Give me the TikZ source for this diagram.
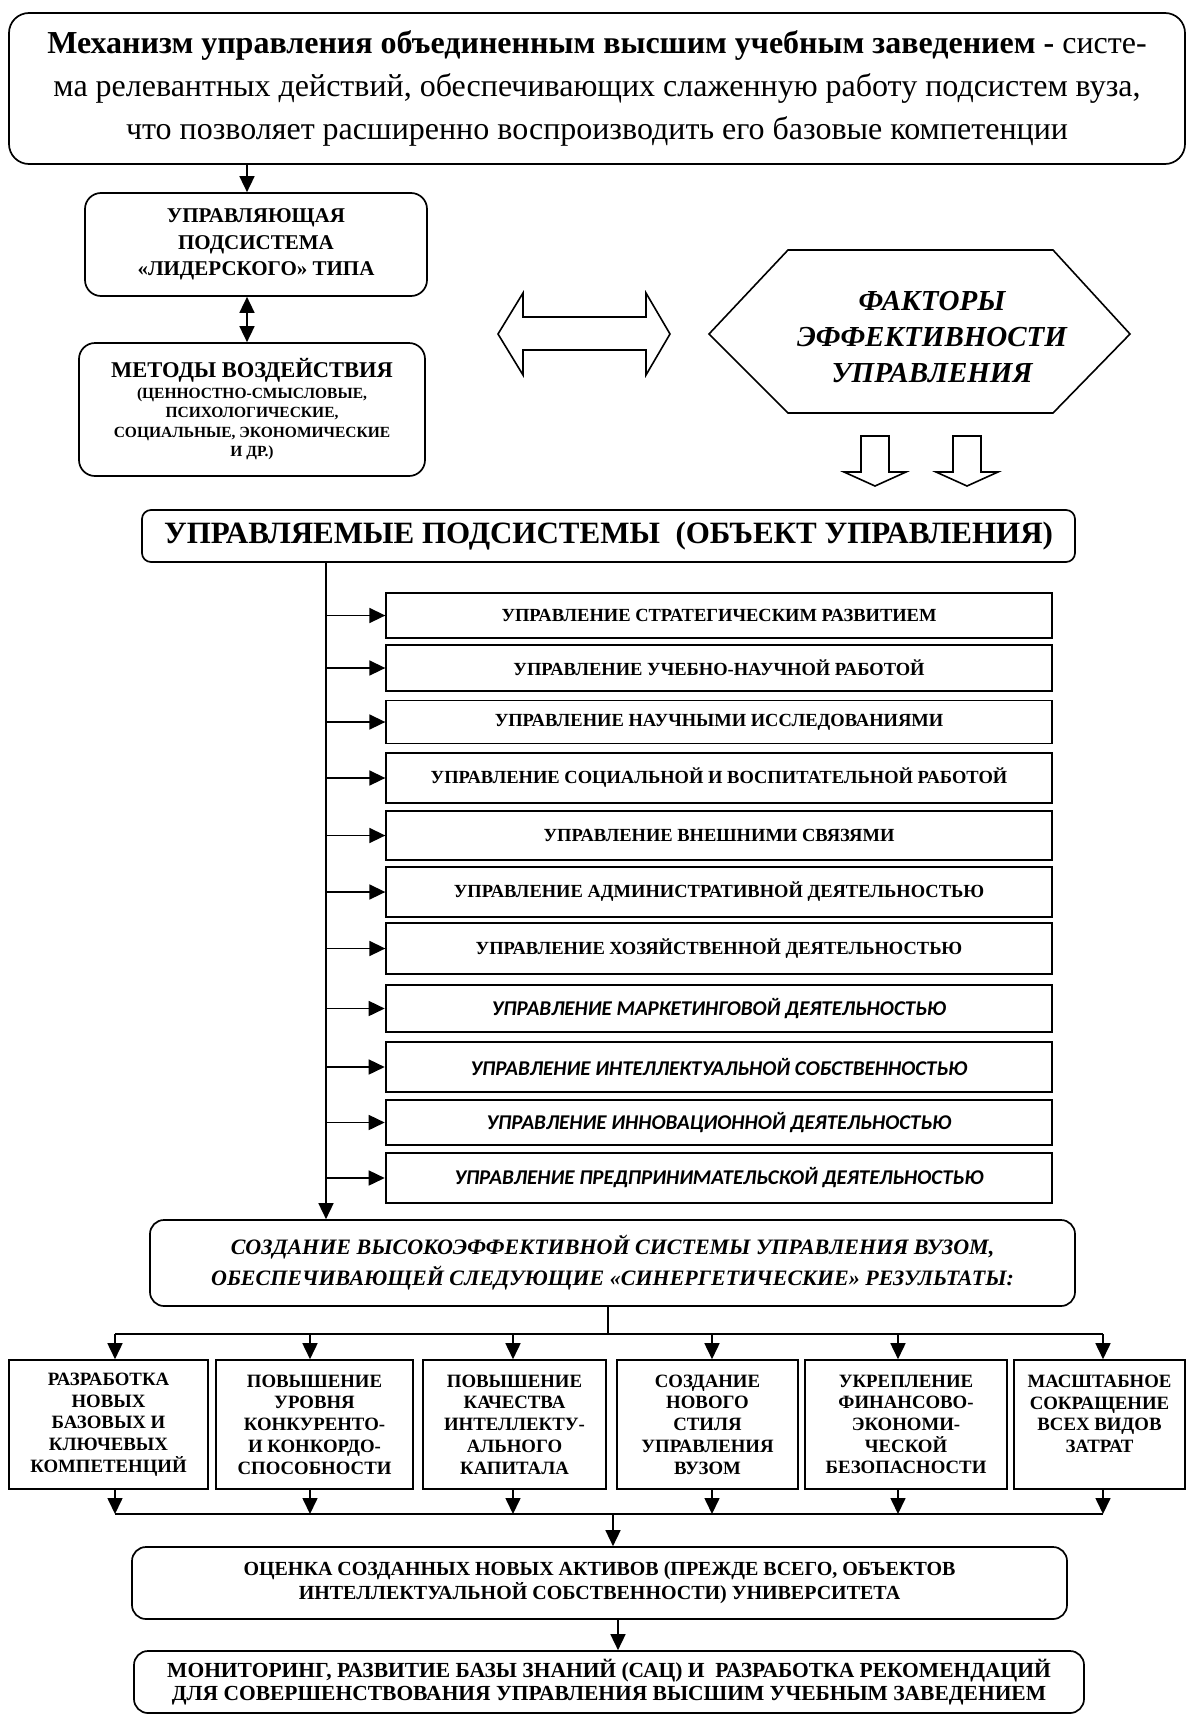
\documentclass[tikz,border=0pt]{standalone}
\usepackage{fontspec}
\setmainfont{Liberation Serif}
\newfontfamily\calibri{Carlito}
\usetikzlibrary{arrows.meta}
\begin{document}
\begin{tikzpicture}[x=1pt,y=-1pt,
 rbox/.style={draw, line width=1.7pt, rounded corners=16pt, inner sep=0pt, align=center},
 lbox/.style={draw, line width=1.3pt, inner sep=0pt, align=center, minimum width=666pt, font=\fontsize{18.5}{22}\selectfont\bfseries},
 ibox/.style={lbox, line width=2.6pt, font=\fontsize{21}{25}\selectfont\calibri\bfseries\itshape},
 rbx/.style={draw, line width=1.6pt, inner sep=0pt, align=center, minimum height=129pt, font=\fontsize{18.8}{21.7}\selectfont\bfseries},
 conn/.style={line width=1.6pt, -{Triangle[length=16pt,width=15pt]}},
 dconn/.style={line width=1.6pt, {Triangle[length=16pt,width=15pt]}-{Triangle[length=16pt,width=15pt]}},
 plain/.style={line width=1.6pt},
 blk/.style={line width=1.6pt, line join=miter},
]
\useasboundingbox (0,0) rectangle (1192,1716);

% top box
\node[rbox, rounded corners=20pt, minimum width=1176pt, minimum height=151pt,
      font=\fontsize{32}{43}\selectfont] (top) at (597,88.5)
 {\textbf{Механизм управления объединенным высшим учебным заведением -} систе-\\
  ма релевантных действий, обеспечивающих слаженную работу подсистем вуза,\\
  что позволяет расширенно воспроизводить его базовые компетенции};

% leader subsystem
\node[rbox, minimum width=342pt, minimum height=103pt, font=\fontsize{21}{26.5}\selectfont\bfseries] (lead) at (256,244.5)
 {УПРАВЛЯЮЩАЯ\\ПОДСИСТЕМА\\«ЛИДЕРСКОГО» ТИПА};

% methods
\node[rbox, minimum width=346pt, minimum height=133pt, font=\fontsize{15.5}{19.5}\selectfont\bfseries] (meth) at (252,409.5)
 {{\fontsize{22.5}{26}\selectfont МЕТОДЫ ВОЗДЕЙСТВИЯ}\\[1pt]
  (ЦЕННОСТНО-СМЫСЛОВЫЕ,\\ПСИХОЛОГИЧЕСКИЕ,\\СОЦИАЛЬНЫЕ, ЭКОНОМИЧЕСКИЕ\\И ДР.)};

% double block arrow
\draw[blk] (498,334) -- (523,293) -- (523,317) -- (646,317) -- (646,293) -- (670,334)
  -- (646,375) -- (646,350) -- (523,350) -- (523,375) -- cycle;

% hexagon
\draw[blk] (709,334) -- (788,250) -- (1053,250) -- (1130,334) -- (1053,413) -- (788,413) -- cycle;
\node[align=center, inner sep=0pt, font=\fontsize{29}{36}\selectfont\bfseries\itshape] (fact) at (932,337)
 {ФАКТОРЫ\\ЭФФЕКТИВНОСТИ\\УПРАВЛЕНИЯ};

% down block arrows
\draw[blk] (861,436) -- (889,436) -- (889,472) -- (906,472) -- (875,486) -- (844,472) -- (861,472) -- cycle;
\draw[blk] (953,436) -- (981,436) -- (981,472) -- (998,472) -- (967,486) -- (936,472) -- (953,472) -- cycle;

% managed subsystems
\node[rbox, rounded corners=9pt, minimum width=933pt, minimum height=52pt, font=\fontsize{31}{34}\selectfont\bfseries] (subs) at (608.5,536)
 {УПРАВЛЯЕМЫЕ ПОДСИСТЕМЫ\ \ (ОБЪЕКТ УПРАВЛЕНИЯ)};

% list
\node[lbox, minimum height=45pt] (L1) at (719,615.5) {УПРАВЛЕНИЕ СТРАТЕГИЧЕСКИМ РАЗВИТИЕМ};
\node[lbox, minimum height=46pt] (L2) at (719,668) {УПРАВЛЕНИЕ УЧЕБНО-НАУЧНОЙ РАБОТОЙ};
\node[lbox, minimum height=43pt] (L3) at (719,722) {УПРАВЛЕНИЕ НАУЧНЫМИ ИССЛЕДОВАНИЯМИ};
\node[lbox, minimum height=50pt] (L4) at (719,778) {УПРАВЛЕНИЕ СОЦИАЛЬНОЙ И ВОСПИТАТЕЛЬНОЙ РАБОТОЙ};
\node[lbox, minimum height=49pt] (L5) at (719,835.5) {УПРАВЛЕНИЕ ВНЕШНИМИ СВЯЗЯМИ};
\node[lbox, minimum height=50pt] (L6) at (719,892) {УПРАВЛЕНИЕ АДМИНИСТРАТИВНОЙ ДЕЯТЕЛЬНОСТЬЮ};
\node[lbox, minimum height=51pt] (L7) at (719,948.5) {УПРАВЛЕНИЕ ХОЗЯЙСТВЕННОЙ ДЕЯТЕЛЬНОСТЬЮ};
\node[ibox, minimum height=47pt] (L8) at (719,1008.5) {УПРАВЛЕНИЕ МАРКЕТИНГОВОЙ ДЕЯТЕЛЬНОСТЬЮ};
\node[ibox, minimum height=50pt] (L9) at (719,1067) {УПРАВЛЕНИЕ ИНТЕЛЛЕКТУАЛЬНОЙ СОБСТВЕННОСТЬЮ};
\node[ibox, minimum height=45pt] (L10) at (719,1122.5) {УПРАВЛЕНИЕ ИННОВАЦИОННОЙ ДЕЯТЕЛЬНОСТЬЮ};
\node[ibox, minimum height=50pt] (L11) at (719,1178) {УПРАВЛЕНИЕ ПРЕДПРИНИМАТЕЛЬСКОЙ ДЕЯТЕЛЬНОСТЬЮ};

% creation box
\node[rbox, rounded corners=14pt, minimum width=925pt, minimum height=86pt, font=\fontsize{22}{31}\selectfont\bfseries\itshape] (create) at (612.5,1263)
 {СОЗДАНИЕ ВЫСОКОЭФФЕКТИВНОЙ СИСТЕМЫ УПРАВЛЕНИЯ ВУЗОМ,\\ОБЕСПЕЧИВАЮЩЕЙ СЛЕДУЮЩИЕ «СИНЕРГЕТИЧЕСКИЕ» РЕЗУЛЬТАТЫ:};

% results
\node[rbx, minimum width=199pt] (R1) at (108.5,1424.5) {РАЗРАБОТКА\\НОВЫХ\\БАЗОВЫХ И\\КЛЮЧЕВЫХ\\КОМПЕТЕНЦИЙ};
\node[rbx, minimum width=197pt] (R2) at (314.5,1424.5) {ПОВЫШЕНИЕ\\УРОВНЯ\\КОНКУРЕНТО-\\И КОНКОРДО-\\СПОСОБНОСТИ};
\node[rbx, minimum width=183pt] (R3) at (514.5,1424.5) {ПОВЫШЕНИЕ\\КАЧЕСТВА\\ИНТЕЛЛЕКТУ-\\АЛЬНОГО\\КАПИТАЛА};
\node[rbx, minimum width=181pt] (R4) at (707.5,1424.5) {СОЗДАНИЕ\\НОВОГО\\СТИЛЯ\\УПРАВЛЕНИЯ\\ВУЗОМ};
\node[rbx, minimum width=202pt] (R5) at (906,1424.5) {УКРЕПЛЕНИЕ\\ФИНАНСОВО-\\ЭКОНОМИ-\\ЧЕСКОЙ\\БЕЗОПАСНОСТИ};
\node[rbx, minimum width=171pt] (R6) at (1099.5,1424.5) {МАСШТАБНОЕ\\СОКРАЩЕНИЕ\\ВСЕХ ВИДОВ\\ЗАТРАТ\\\mbox{}};

% evaluation and monitoring
\node[rbox, rounded corners=14pt, minimum width=935pt, minimum height=72pt, font=\fontsize{20}{24}\selectfont\bfseries] (eval) at (599.5,1583)
 {ОЦЕНКА СОЗДАННЫХ НОВЫХ АКТИВОВ (ПРЕЖДЕ ВСЕГО, ОБЪЕКТОВ\\ИНТЕЛЛЕКТУАЛЬНОЙ СОБСТВЕННОСТИ) УНИВЕРСИТЕТА};
\node[rbox, rounded corners=14pt, minimum width=950pt, minimum height=62pt, font=\fontsize{21.5}{23.5}\selectfont\bfseries] (mon) at (609,1682)
 {МОНИТОРИНГ, РАЗВИТИЕ БАЗЫ ЗНАНИЙ (САЦ) И\ \ РАЗРАБОТКА РЕКОМЕНДАЦИЙ\\ДЛЯ СОВЕРШЕНСТВОВАНИЯ УПРАВЛЕНИЯ ВЫСШИМ УЧЕБНЫМ ЗАВЕДЕНИЕМ};

% helper coordinates
\coordinate (ax) at (247,0);
\coordinate (tx) at (326,0);
\coordinate (cx) at (608,0);
\coordinate (bar1) at (0,1334);
\coordinate (bar2) at (0,1514);
\coordinate (ox) at (613,0);
\coordinate (mx) at (618,0);
\coordinate (c1) at (115,0);
\coordinate (c2) at (310,0);
\coordinate (c3) at (513,0);
\coordinate (c4) at (712,0);
\coordinate (c5) at (898,0);
\coordinate (c6) at (1103,0);

% connectors
\draw[conn] (top.south -| ax) -- (lead.north -| ax);
\draw[dconn] (lead.south -| ax) -- (meth.north -| ax);
\draw[conn] (subs.south -| tx) -- (create.north -| tx);
\foreach \i in {1,...,11} { \draw[conn] (L\i.west -| tx) -- (L\i.west); }
\draw[plain] (create.south -| cx) -- (bar1 -| cx);
\draw[plain] (bar1 -| c1) -- (bar1 -| c6);
\foreach \i in {1,...,6} {
  \draw[conn] (bar1 -| c\i) -- (R\i.north -| c\i);
  \draw[conn] (R\i.south -| c\i) -- (bar2 -| c\i);
}
\draw[plain] (bar2 -| c1) -- (bar2 -| c6);
\draw[conn] (bar2 -| ox) -- (eval.north -| ox);
\draw[conn] (eval.south -| mx) -- (mon.north -| mx);
\end{tikzpicture}
\end{document}
